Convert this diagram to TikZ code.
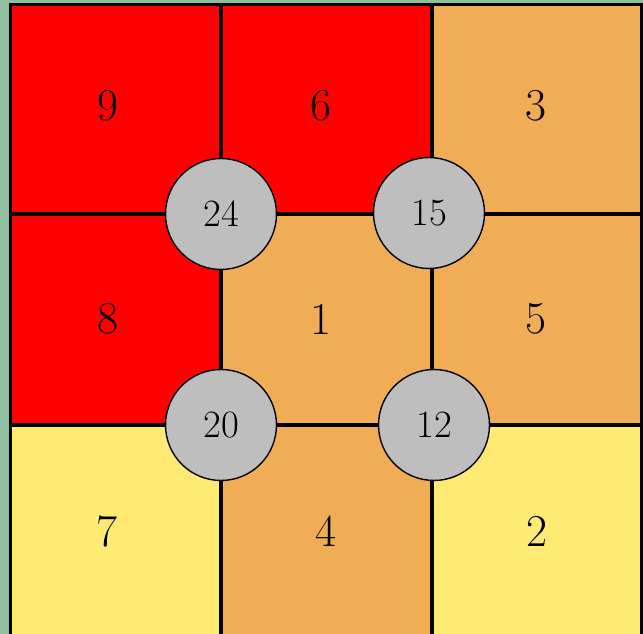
\documentclass[tikz,border=0pt]{standalone}
\definecolor{bggreen}{RGB}{143,191,159}
\definecolor{cellred}{RGB}{255,0,0}
\definecolor{cellorange}{RGB}{240,173,85}
\definecolor{cellyellow}{RGB}{255,234,116}
\definecolor{hubgray}{RGB}{190,190,190}
\begin{document}
\begin{tikzpicture}[x=0.02cm,y=-0.02cm,line join=miter,
		cell/.style={draw=black,line width=2.2pt},
		hub/.style={circle,draw=black,fill=hubgray,line width=0.8pt,minimum size=2.22cm,inner sep=0pt,font=\fontsize{22}{22}\selectfont},
		tag/.style={font=\fontsize{26}{26}\selectfont}]
	\fill[bggreen] (0,0) rectangle (643,634);
	\useasboundingbox (0,0) rectangle (643,634);
	\begin{scope}
		\clip (0,0) rectangle (643,634);
		% cells: corners, colour, number and where it sits
		\foreach \xa/\xb/\ya/\yb/\c/\n/\lx/\ly in {
			10.5/221/4.5/214/cellred/9/108/106,
			221/432/4.5/214/cellred/6/321/106,
			432/641.5/4.5/214/cellorange/3/536/106,
			10.5/221/214/425/cellred/8/108/319,
			221/432/214/425/cellorange/1/321/319,
			432/641.5/214/425/cellorange/5/536/319,
			10.5/221/425/650/cellyellow/7/107/531,
			221/432/425/650/cellorange/4/326/531,
			432/641.5/425/650/cellyellow/2/537/531}
		{
			\filldraw[cell,fill=\c] (\xa,\ya) rectangle (\xb,\yb);
			\node[tag] (c\n) at (\lx,\ly) {\n};
		}
	\end{scope}
	% hubs on the crossings
	\node[hub] (h24) at (221,214) {24};
	\node[hub] (h15) at (429,213) {15};
	\node[hub] (h20) at (221,425) {20};
	\node[hub] (h12) at (434,425) {12};
\end{tikzpicture}
\end{document}
